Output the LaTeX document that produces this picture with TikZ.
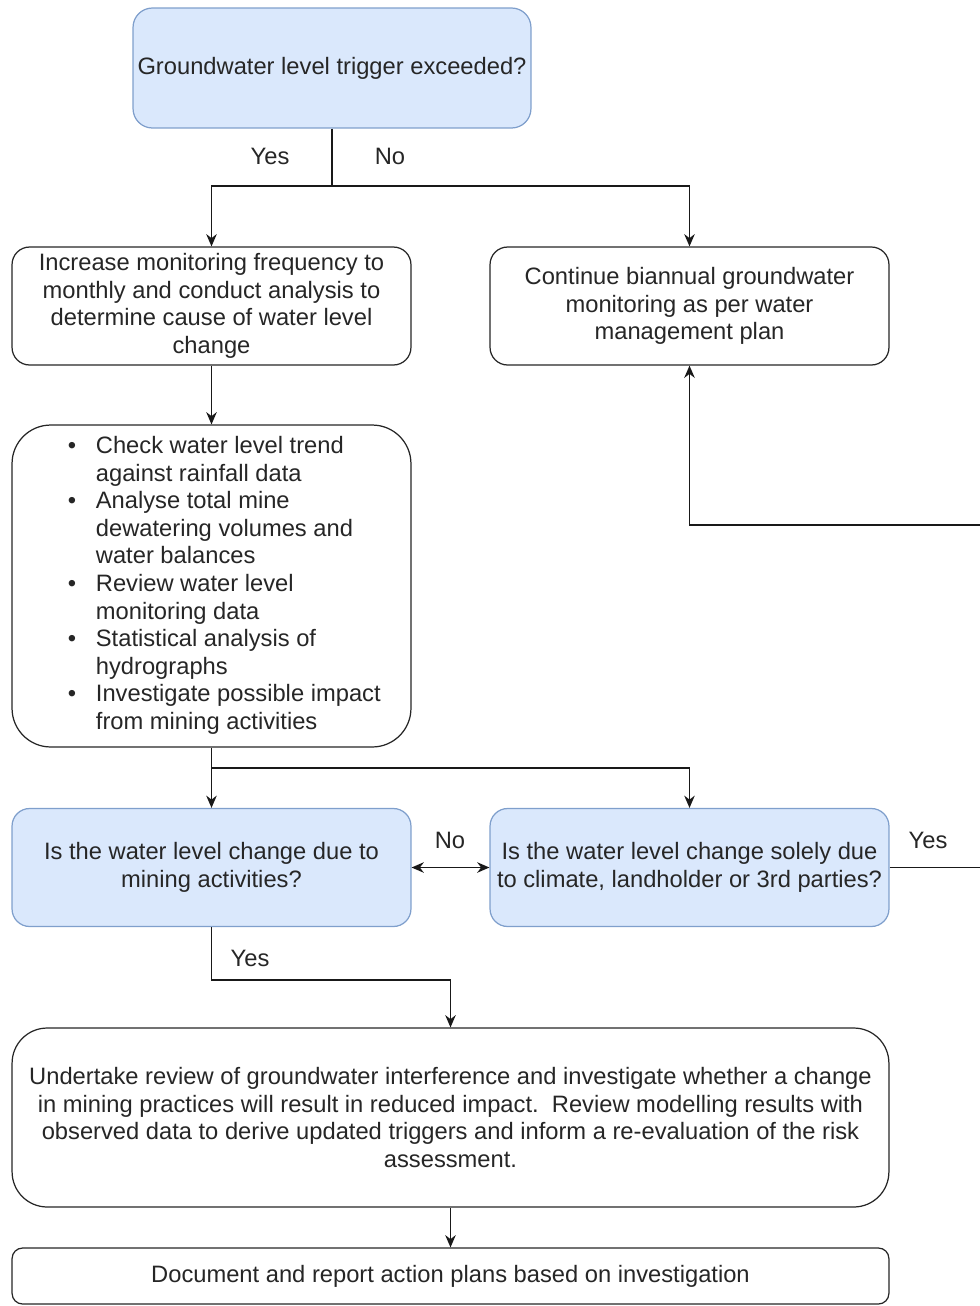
\documentclass[tikz,border=0pt]{standalone}
\usepackage{fontspec}
\setmainfont{Liberation Sans}
\usetikzlibrary{arrows.meta}
\definecolor{askfill}{HTML}{DAE8FC}
\definecolor{askline}{HTML}{7F9FCC}
\tikzset{
  txt/.style={font=\fontsize{13.5}{15.7}\selectfont, text=black!85},
  plainbox/.style={txt, draw=black!85, fill=white, line width=0.7pt, rounded corners=10pt, align=center, minimum width=7.98cm, minimum height=2.36cm, inner sep=2pt},
  askbox/.style={plainbox, draw=askline, fill=askfill},
  lbl/.style={txt, inner sep=1pt},
  link/.style={line width=0.8pt, black!90},
}

\begin{document}
\begin{tikzpicture}[x=0.02cm, y=-0.02cm, >={Stealth[length=7pt,width=6pt]}]
    \useasboundingbox (0,0) rectangle (980,1306);

    \node[askbox, minimum width=7.96cm, minimum height=2.4cm, rounded corners=11pt] (trigger) at (332,68) {Groundwater level trigger exceeded?};
    \node[plainbox] (increase) at (211.5,306) {Increase monitoring frequency to\\monthly and conduct analysis to\\determine cause of water level\\change};
    \node[plainbox] (continue) at (689.5,306) {Continue biannual groundwater\\monitoring as per water\\management plan};
    \node[plainbox, minimum height=6.44cm, rounded corners=22pt] (checks) at (211.5,586) {\hspace*{14.5pt}%
      \begin{tabular}{@{}l@{\hspace{11.3pt}}l@{}}
        \textbullet & Check water level trend\\
                    & against rainfall data\\
        \textbullet & Analyse total mine\\
                    & dewatering volumes and\\
                    & water balances\\
        \textbullet & Review water level\\
                    & monitoring data\\
        \textbullet & Statistical analysis of\\
                    & hydrographs\\
        \textbullet & Investigate possible impact\\
                    & from mining activities
      \end{tabular}};
    \node[askbox] (mining) at (211.5,867.5) {Is the water level change due to\\mining activities?};
    \node[askbox] (climate) at (689.5,867.5) {Is the water level change solely due\\to climate, landholder or 3rd parties?};
    \node[plainbox, minimum width=17.54cm, minimum height=3.58cm, rounded corners=20pt] (review) at (450.5,1117.5) {Undertake review of groundwater interference and investigate whether a change\\in mining practices will result in reduced impact.\ \ Review modelling results with\\observed data to derive updated triggers and inform a re-evaluation of the risk\\assessment.};
    \node[plainbox, minimum width=17.54cm, minimum height=1.12cm, rounded corners=6pt] (report) at (450.5,1276) {Document and report action plans based on investigation};

    \coordinate (split1) at (332,186);
    \coordinate (split2) at (211.5,768);
    \coordinate (joint) at (211.5,980);
    \coordinate (edgeA) at (980,867.5);
    \coordinate (edgeB) at (980,525);

    \draw[link] (trigger.south) -- (split1);
    \draw[link, ->] (split1) -| (increase.north);
    \draw[link, ->] (split1) -| (continue.north);
    \node[lbl] (yes1) at (270,156) {Yes};
    \node[lbl] (no1) at (390,156) {No};
    \draw[link, ->] (increase.south) -- (checks.north);
    \draw[link, ->] (checks.south) -- (mining.north);
    \draw[link, ->] (split2) -| (climate.north);
    \draw[link, <->] (mining.east) -- (climate.west);
    \node[lbl] (no2) at (450,840) {No};
    \draw[link] (climate.east) -- (edgeA);
    \node[lbl] (yes2) at (928,840) {Yes};
    \draw[link, ->] (edgeB) -| (continue.south);
    \draw[link, ->] (mining.south) -- (joint) -| (review.north);
    \node[lbl] (yes3) at (250,958) {Yes};
    \draw[link, ->] (review.south) -- (report.north);
\end{tikzpicture}
\end{document}
